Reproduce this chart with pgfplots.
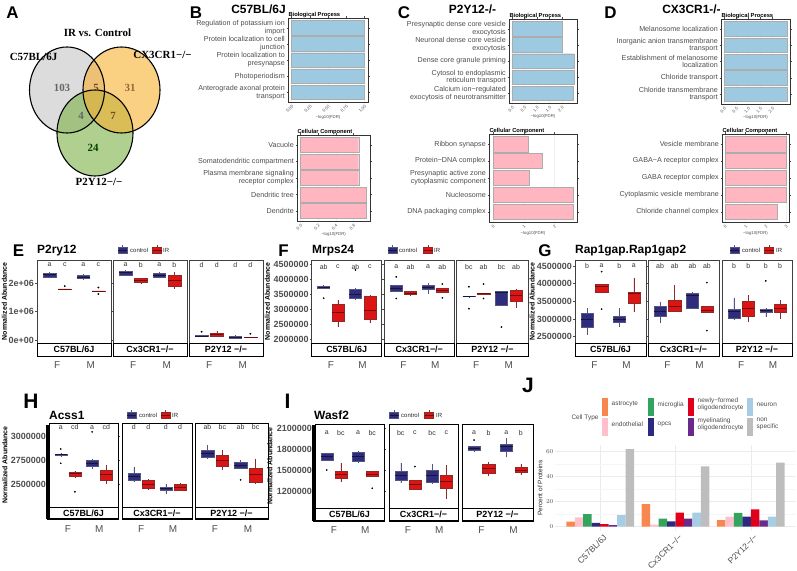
\documentclass[border=0pt]{standalone}
\usepackage{fontspec}
\setmainfont{Liberation Sans}
\newfontfamily\vennfont{Liberation Serif}
\usepackage{pgfplots}
\pgfplotsset{compat=1.18}
\usepgfplotslibrary{statistics}

\definecolor{ctrlF}{HTML}{2F2C7E}
\definecolor{ctrlD}{HTML}{55557E}
\definecolor{ctrlM}{HTML}{15143F}
\definecolor{irF}{HTML}{DD1414}
\definecolor{irD}{HTML}{8E2A2A}
\definecolor{irM}{HTML}{6E0C0C}
\definecolor{gobl}{HTML}{9ECAE1}
\definecolor{gopk}{HTML}{FFB6C1}
\definecolor{vgray}{HTML}{C4C4C4}
\definecolor{vorange}{HTML}{F7B031}
\definecolor{vgreen}{HTML}{7CB146}
\definecolor{cAstro}{HTML}{F8874F}
\definecolor{cEndo}{HTML}{FFC0CB}
\definecolor{cMicro}{HTML}{33A45B}
\definecolor{cOpcs}{HTML}{2C2A7E}
\definecolor{cNewly}{HTML}{E0001B}
\definecolor{cMyel}{HTML}{6B2A8A}
\definecolor{cNeuron}{HTML}{A6CDE3}
\definecolor{cNon}{HTML}{BDBDBD}
\definecolor{txt}{HTML}{4D4D4D}

% box-plot values are given in millions (abundance / 1e6)
\newcommand\bx[7]{\addplot[#7, boxplot prepared={draw position=#1, lower whisker=#2, lower quartile=#3, median=#4, upper quartile=#5, upper whisker=#6}] coordinates {};}
\newcommand\lts[5]{\node[lt] at (axis cs:0.775,#1) {#2};\node[lt] at (axis cs:1.225,#1) {#3};\node[lt] at (axis cs:1.775,#1) {#4};\node[lt] at (axis cs:2.225,#1) {#5};}
\newcommand\strip[3]{\draw[draw=black, line width=0.6pt, fill=white] (#1.south west) rectangle ([yshift=-#3]#1.south east);
 \node[font=\bfseries\fontsize{9}{10}\selectfont, inner sep=0pt] at ([yshift=-#3/2]#1.south) {#2};}
\newcommand\lkey[3]{\draw[#3D, line width=0.4pt] (#1bp,#2bp-4.5bp) -- (#1bp,#2bp+4.5bp);
 \filldraw[fill=#3F, draw=#3D, line width=0.4pt] (#1bp-4.5bp,#2bp-3bp) rectangle (#1bp+4.5bp,#2bp+3bp);
 \draw[#3M, line width=0.6pt] (#1bp-4.5bp,#2bp) -- (#1bp+4.5bp,#2bp);}
\newcommand\jkey[4]{\fill[#3] (#1bp,#2bp-9.2bp) rectangle (#1bp+6.6bp,#2bp+9.2bp);
 \node[anchor=west, align=left, font=\fontsize{6.5}{7.2}\selectfont, text=txt, inner sep=0pt] at (#1bp+9.8bp,#2bp+2.7bp) {#4};}

\tikzset{lt/.style={font=\fontsize{7}{8}\selectfont, text=black!80, inner sep=0pt},
 plab/.style={font=\bfseries\fontsize{17}{18}\selectfont, inner sep=0pt},
 plabb/.style={font=\bfseries\fontsize{21}{22}\selectfont, inner sep=0pt},
 ptit/.style={font=\bfseries\fontsize{12}{13}\selectfont, inner sep=0pt},
 ylab/.style={font=\bfseries\fontsize{7}{8}\selectfont, rotate=90, inner sep=0pt},
 legt/.style={font=\fontsize{6}{7}\selectfont, text=black!85, anchor=west, inner sep=0pt},
 gott/.style={font=\bfseries\fontsize{5.8}{6}\selectfont, anchor=south west, inner sep=0.3bp},
 vnum/.style={font=\vennfont\bfseries\fontsize{11}{12}\selectfont, inner sep=0pt},
}

\pgfplotsset{
 ctrl/.style={boxplot/draw direction=y, fill=ctrlF, draw=ctrlD, line width=0.4pt, boxplot/box extend=0.38, boxplot/whisker extend=0, boxplot/every median/.style={draw=ctrlM, line width=0.7pt}},
 ir/.style={boxplot/draw direction=y, fill=irF, draw=irD, line width=0.4pt, boxplot/box extend=0.38, boxplot/whisker extend=0, boxplot/every median/.style={draw=irM, line width=0.7pt}},
 outl/.style={only marks, mark=*, mark size=0.65pt, draw=black, fill=black},
 bpf/.style={scale only axis, anchor=south west, clip=false, xmin=0.4, xmax=2.6, xtick={1,2}, xticklabels={F,M},
   xticklabel style={yshift=-13bp, font=\fontsize{10}{11}\selectfont, text=txt}, xtick style={draw=none},
   ytick style={draw=txt, line width=0.5pt}, major tick length=2bp, tick align=outside,
   axis line style={draw=gray!50!black, line width=0.6pt},
   yticklabel style={font=\bfseries\fontsize{9}{10}\selectfont, text=txt, inner sep=1bp}, scaled y ticks=false},
 bpn/.style={bpf, ytick=\empty},
 bph/.style={axis line style={draw=black, line width=0.9pt}},
 goax/.style={scale only axis, anchor=south west, xbar, bar width=0.9, ymin=0.4, ymax=5.6, y dir=reverse, ytick={1,2,3,4,5},
   yticklabel style={align=right, font=\fontsize{7.2}{7.8}\selectfont, text=txt, inner sep=1.5bp},
   xticklabel style={rotate=45, anchor=north east, font=\fontsize{4.3}{5}\selectfont, text=txt, inner sep=0.8bp},
   major tick length=1.5bp, tick align=outside, tick style={draw=txt, line width=0.3pt},
   axis line style={draw=black!80, line width=0.9pt}, xmajorgrids, grid style={draw=gray!12, line width=0.3pt},
   xlabel={−log10(FDR)}, xlabel style={font=\fontsize{4.3}{5}\selectfont, text=txt, inner sep=1bp}, scaled x ticks=false},
 bpbar/.style={fill=gobl, draw=gray!65, line width=0.4pt},
 ccbar/.style={fill=gopk, draw=gray!65, line width=0.4pt},
}

\begin{document}
\begin{tikzpicture}
\path[use as bounding box] (0,0) rectangle (797bp,571bp);

% ---------------- A: Venn
\begin{axis}[scale only axis, anchor=south west, at={(0bp,371bp)}, width=200bp, height=200bp,
  xmin=0, xmax=200, ymin=371, ymax=571, hide axis, clip=false]
\fill[vgray, fill opacity=0.6] (axis cs:67,481) ellipse [x radius=37.5bp, y radius=43bp];
\fill[vgreen, fill opacity=0.6] (axis cs:95,438) ellipse [x radius=38bp, y radius=43bp];
\fill[vorange, fill opacity=0.6] (axis cs:121.5,481) ellipse [x radius=38.5bp, y radius=43bp];
\draw[black, line width=1.1pt] (axis cs:67,481) ellipse [x radius=37.5bp, y radius=43bp];
\draw[black, line width=1.1pt] (axis cs:95,438) ellipse [x radius=38bp, y radius=43bp];
\draw[black, line width=1.1pt] (axis cs:121.5,481) ellipse [x radius=38.5bp, y radius=43bp];
\node[vnum, text=black!60] at (axis cs:62,483) {103};
\node[vnum, text=black!45!brown] at (axis cs:96,483) {5};
\node[vnum, text=brown!80!black] at (axis cs:130,483) {31};
\node[vnum, text=black!60] at (axis cs:81,455) {4};
\node[vnum, text=brown!60!black] at (axis cs:113,455) {7};
\node[vnum, text=green!25!black] at (axis cs:93,423) {24};
\node[vnum] at (axis cs:97.5,538) {IR vs. Control};
\node[vnum] at (axis cs:33.5,514) {C57BL/6J};
\node[vnum] at (axis cs:162.5,516) {CX3CR1−/−};
\node[vnum] at (axis cs:99,389) {P2Y12−/−};
\end{axis}
\node[plab] at (12.5bp,558.5bp) {A};

% ---------------- B
\node[plab] at (196bp,558.5bp) {B};
\node[ptit] at (258.5bp,562bp) {C57BL/6J};
\begin{axis}[goax, name=BBP, at={(288bp,469bp)}, width=80bp, height=84bp, xmin=-0.05, xmax=1.05,
  xtick={0,0.25,0.5,0.75,1}, xticklabels={0.00,0.25,0.50,0.75,1.00},
  yticklabels={{Regulation of potassium ion\\import},{Protein localization to cell\\junction},{Protein localization to\\presynapse},{Photoperiodism},{Anterograde axonal protein\\transport}}]
\addplot[bpbar] coordinates {(1.0,1) (1.0,2) (1.0,3) (1.0,4) (1.0,5)};
\end{axis}
\node[gott] at (BBP.north west) {Biological Process};
\begin{axis}[goax, name=BCC, at={(297bp,350bp)}, width=73bp, height=86bp, xmin=-0.0375, xmax=0.7875,
  xtick={0,0.2,0.4,0.6}, xticklabels={0.0,0.2,0.4,0.6},
  yticklabels={{Vacuole},{Somatodendritic compartment},{Plasma membrane signaling\\receptor complex},{Dendritic tree},{Dendrite}}]
\addplot[ccbar] coordinates {(0.66,1) (0.66,2) (0.66,3) (0.75,4) (0.75,5)};
\end{axis}
\node[gott] at (BCC.north west) {Cellular Component};

% ---------------- C
\node[plab] at (404bp,558.5bp) {C};
\node[ptit] at (472.5bp,562bp) {P2Y12-/-};
\begin{axis}[goax, name=CBP, at={(509bp,468bp)}, width=68bp, height=84bp, xmin=-0.124, xmax=2.604,
  xtick={0,0.5,1,1.5,2}, xticklabels={0.0,0.5,1.0,1.5,2.0},
  yticklabels={{Presynaptic dense core vesicle\\exocytosis},{Neuronal dense core vesicle\\exocytosis},{Dense core granule priming},{Cytosol to endoplasmic\\reticulum transport},{Calcium ion−regulated\\exocytosis of neurotransmitter}}]
\addplot[bpbar] coordinates {(2.0,1) (2.0,2) (2.48,3) (2.48,4) (2.44,5)};
\end{axis}
\node[gott] at (CBP.north west) {Biological Process};
\begin{axis}[goax, name=CCC, at={(489bp,349bp)}, width=88bp, height=88bp, xmin=-0.13, xmax=2.73,
  xtick={0,1,2}, xticklabels={0,1,2},
  yticklabels={{Ribbon synapse},{Protein−DNA complex},{Presynaptic active zone\\cytoplasmic component},{Nucleosome},{DNA packaging complex}}]
\addplot[ccbar] coordinates {(1.15,1) (1.60,2) (1.18,3) (2.60,4) (2.60,5)};
\end{axis}
\node[gott] at (CCC.north west) {Cellular Component};

% ---------------- D
\node[plab] at (610.5bp,558.5bp) {D};
\node[ptit] at (691.5bp,562bp) {CX3CR1-/-};
\begin{axis}[goax, name=DBP, at={(721bp,467bp)}, width=69bp, height=85bp, xmin=-0.13, xmax=2.73,
  xtick={0,0.5,1,1.5,2}, xticklabels={0.0,0.5,1.0,1.5,2.0},
  yticklabels={{Melanosome localization},{Inorganic anion transmembrane\\transport},{Establishment of melanosome\\localization},{Chloride transport},{Chloride transmembrane\\transport}}]
\addplot[bpbar] coordinates {(2.6,1) (2.6,2) (2.6,3) (2.6,4) (2.6,5)};
\end{axis}
\node[gott] at (DBP.north west) {Biological Process};
\begin{axis}[goax, name=DCC, at={(722bp,349bp)}, width=67bp, height=88bp, xmin=-0.15, xmax=3.15,
  xtick={0,1,2,3}, xticklabels={0,1,2,3},
  yticklabels={{Vesicle membrane},{GABA−A receptor complex},{GABA receptor complex},{Cytoplasmic vesicle membrane},{Chloride channel complex}}]
\addplot[ccbar] coordinates {(3.0,1) (3.0,2) (3.0,3) (3.0,4) (2.59,5)};
\end{axis}
\node[gott] at (DCC.north west) {Cellular Component};

% ---------------- E: P2ry12 (millions)
\node[plab] at (18.5bp,320bp) {E};
\node[ptit, anchor=west] at (37bp,320bp) {P2ry12};
\lkey{122.5}{321}{ctrl}\node[legt] at (130bp,321bp) {control};
\lkey{157}{321}{ir}\node[legt] at (163bp,321bp) {IR};
\node[ylab] at (4.5bp,269.5bp) {Normalized Abundance};
\begin{axis}[bpf, name=E1, at={(37bp,228bp)}, width=74bp, height=83bp, ymin=-0.106, ymax=2.82,
  ytick={0,1,2}, yticklabels={0e+00,1e+06,2e+06}]
\bx{0.775}{2.17}{2.22}{2.30}{2.37}{2.40}{ctrl}
\bx{1.225}{1.79}{1.795}{1.80}{1.805}{1.81}{ir}
\bx{1.775}{2.13}{2.17}{2.22}{2.29}{2.31}{ctrl}
\bx{2.225}{1.72}{1.725}{1.73}{1.735}{1.74}{ir}
\addplot[outl] coordinates {(1.225,1.90) (2.225,1.85) (2.225,1.62)};
\lts{2.64}{a}{c}{a}{c}
\end{axis}
\begin{axis}[bpn, name=E2, at={(113bp,228bp)}, width=74bp, height=83bp, ymin=-0.106, ymax=2.82]
\bx{0.775}{2.28}{2.30}{2.38}{2.43}{2.45}{ctrl}
\bx{1.225}{1.98}{2.02}{2.10}{2.18}{2.20}{ir}
\bx{1.775}{2.17}{2.21}{2.28}{2.34}{2.40}{ctrl}
\bx{2.225}{1.80}{1.90}{2.10}{2.30}{2.40}{ir}
\lts{2.64}{a}{b}{a}{b}
\end{axis}
\begin{axis}[bpn, name=E3, at={(189bp,228bp)}, width=74bp, height=83bp, ymin=-0.106, ymax=2.82]
\bx{0.775}{0.12}{0.13}{0.14}{0.155}{0.16}{ctrl}
\bx{1.225}{0.10}{0.13}{0.20}{0.235}{0.33}{ir}
\bx{1.775}{0.05}{0.07}{0.10}{0.15}{0.16}{ctrl}
\bx{2.225}{0.09}{0.095}{0.10}{0.105}{0.11}{ir}
\addplot[outl] coordinates {(0.775,0.29) (2.225,0.22)};
\lts{2.64}{d}{d}{d}{d}
\end{axis}
\strip{E1}{C57BL/6J}{13bp}\strip{E2}{Cx3CR1−/−}{13bp}\strip{E3}{P2Y12 −/−}{13bp}

% ---------------- F: Mrps24 (millions)
\node[plab] at (283.5bp,320bp) {F};
\node[ptit, anchor=west] at (312bp,320bp) {Mrps24};
\lkey{392.5}{321}{ctrl}\node[legt] at (399bp,321bp) {control};
\lkey{428}{321}{ir}\node[legt] at (434bp,321bp) {IR};
\node[ylab] at (267.5bp,269.5bp) {Normalized Abundance};
\begin{axis}[bpf, name=F1, at={(311.7bp,228bp)}, width=70bp, height=83bp, ymin=1.88, ymax=4.64,
  ytick={2,2.5,3,3.5,4,4.5}, yticklabels={2000000,2500000,3000000,3500000,4000000,4500000}]
\bx{0.775}{3.68}{3.71}{3.74}{3.78}{3.80}{ctrl}
\bx{1.225}{2.42}{2.59}{2.90}{3.17}{3.31}{ir}
\bx{1.775}{3.31}{3.37}{3.50}{3.67}{3.70}{ctrl}
\bx{2.225}{2.55}{2.67}{2.98}{3.44}{3.46}{ir}
\addplot[outl] coordinates {(0.775,3.37) (1.775,4.31)};
\lts{4.42}{ab}{c}{ab}{c}
\end{axis}
\begin{axis}[bpn, name=F2, at={(384.3bp,228bp)}, width=70bp, height=83bp, ymin=1.88, ymax=4.64]
\bx{0.775}{3.58}{3.61}{3.71}{3.80}{3.82}{ctrl}
\bx{1.225}{3.47}{3.49}{3.545}{3.60}{3.62}{ir}
\bx{1.775}{3.52}{3.66}{3.74}{3.80}{3.89}{ctrl}
\bx{2.225}{3.56}{3.58}{3.63}{3.69}{3.71}{ir}
\addplot[outl] coordinates {(0.775,4.08) (0.775,3.36) (2.225,3.84) (2.225,3.38)};
\lts{4.42}{a}{ab}{a}{ab}
\end{axis}
\begin{axis}[bpn, name=F3, at={(456.7bp,228bp)}, width=71.6bp, height=83bp, ymin=1.88, ymax=4.64]
\bx{0.775}{3.42}{3.425}{3.43}{3.435}{3.44}{ctrl}
\bx{1.225}{3.51}{3.515}{3.52}{3.525}{3.53}{ir}
\bx{1.775}{3.13}{3.13}{3.58}{3.60}{3.60}{ctrl}
\bx{2.225}{3.05}{3.27}{3.47}{3.64}{3.69}{ir}
\addplot[outl] coordinates {(0.775,3.75) (0.775,3.02) (1.225,3.84) (1.225,3.36) (1.775,2.41)};
\lts{4.42}{bc}{ab}{bc}{ab}
\end{axis}
\strip{F1}{C57BL/6J}{13bp}\strip{F2}{Cx3CR1−/−}{13bp}\strip{F3}{P2Y12 −/−}{13bp}

% ---------------- G: Rap1gap.Rap1gap2 (millions)
\node[plab] at (545bp,320bp) {G};
\node[ptit, anchor=west] at (575bp,320bp) {Rap1gap.Rap1gap2};
\lkey{734.5}{321}{ctrl}\node[legt] at (742bp,321bp) {control};
\lkey{769}{321}{ir}\node[legt] at (776bp,321bp) {IR};
\node[ylab] at (532bp,269.5bp) {Normalized Abundance};
\begin{axis}[bpf, name=G1, at={(575bp,228bp)}, width=71bp, height=83bp, ymin=2.32, ymax=4.67,
  ytick={2.5,3,3.5,4,4.5}, yticklabels={2500000,3000000,3500000,4000000,4500000}]
\bx{0.775}{2.55}{2.78}{2.99}{3.16}{3.30}{ctrl}
\bx{1.225}{3.75}{3.77}{3.91}{3.99}{4.00}{ir}
\bx{1.775}{2.78}{2.90}{2.99}{3.08}{3.30}{ctrl}
\bx{2.225}{3.21}{3.46}{3.73}{3.77}{4.15}{ir}
\addplot[outl] coordinates {(1.225,4.34) (1.225,3.28)};
\lts{4.50}{b}{a}{b}{a}
\end{axis}
\begin{axis}[bpn, name=G2, at={(648bp,228bp)}, width=71bp, height=83bp, ymin=2.32, ymax=4.67]
\bx{0.775}{2.88}{3.07}{3.21}{3.35}{3.49}{ctrl}
\bx{1.225}{3.23}{3.23}{3.35}{3.54}{3.96}{ir}
\bx{1.775}{3.30}{3.30}{3.68}{3.73}{3.75}{ctrl}
\bx{2.225}{3.18}{3.18}{3.25}{3.35}{3.35}{ir}
\addplot[outl] coordinates {(2.225,4.03) (2.225,2.67)};
\lts{4.50}{ab}{ab}{ab}{ab}
\end{axis}
\begin{axis}[bpn, name=G3, at={(722bp,228bp)}, width=70bp, height=83bp, ymin=2.32, ymax=4.67]
\bx{0.775}{2.97}{3.02}{3.23}{3.28}{3.58}{ctrl}
\bx{1.225}{2.92}{3.08}{3.30}{3.49}{3.67}{ir}
\bx{1.775}{3.05}{3.20}{3.24}{3.27}{3.30}{ctrl}
\bx{2.225}{3.00}{3.20}{3.30}{3.41}{3.53}{ir}
\addplot[outl] coordinates {(1.775,4.08)};
\lts{4.50}{b}{b}{b}{b}
\end{axis}
\strip{G1}{C57BL/6J}{13bp}\strip{G2}{Cx3CR1−/−}{13bp}\strip{G3}{P2Y12 −/−}{13bp}

% ---------------- H: Acss1 (millions)
\node[plabb] at (31bp,169.5bp) {H};
\node[ptit, anchor=west] at (49bp,156bp) {Acss1};
\lkey{131.5}{156}{ctrl}\node[legt] at (139bp,156bp) {control};
\lkey{165.5}{156}{ir}\node[legt] at (172bp,156bp) {IR};
\node[ylab] at (5bp,106bp) {Normalized Abundance};
\begin{axis}[bpf, bph, name=H1, at={(49bp,64bp)}, width=69bp, height=84bp, ymin=2.26, ymax=3.144,
  ytick={2.5,2.75,3}, yticklabels={2500000,2750000,3000000}]
\bx{0.775}{2.79}{2.80}{2.81}{2.82}{2.83}{ctrl}
\bx{1.225}{2.57}{2.58}{2.61}{2.63}{2.64}{ir}
\bx{1.775}{2.66}{2.685}{2.72}{2.755}{2.77}{ctrl}
\bx{2.225}{2.50}{2.545}{2.60}{2.65}{2.70}{ir}
\addplot[outl] coordinates {(0.775,2.87) (0.775,2.72) (1.225,2.42) (1.775,3.05)};
\lts{3.10}{a}{cd}{a}{cd}
\end{axis}
\begin{axis}[bpn, bph, name=H2, at={(122bp,64bp)}, width=70bp, height=84bp, ymin=2.26, ymax=3.144]
\bx{0.775}{2.52}{2.545}{2.58}{2.62}{2.68}{ctrl}
\bx{1.225}{2.44}{2.46}{2.50}{2.545}{2.55}{ir}
\bx{1.775}{2.40}{2.44}{2.455}{2.47}{2.50}{ctrl}
\bx{2.225}{2.43}{2.44}{2.47}{2.50}{2.51}{ir}
\lts{3.10}{d}{d}{d}{d}
\end{axis}
\begin{axis}[bpn, bph, name=H3, at={(195bp,64bp)}, width=73bp, height=84bp, ymin=2.26, ymax=3.144]
\bx{0.775}{2.77}{2.78}{2.825}{2.86}{2.91}{ctrl}
\bx{1.225}{2.65}{2.685}{2.755}{2.81}{2.86}{ir}
\bx{1.775}{2.67}{2.67}{2.70}{2.73}{2.755}{ctrl}
\bx{2.225}{2.50}{2.52}{2.60}{2.67}{2.77}{ir}
\addplot[outl] coordinates {(1.775,2.545)};
\lts{3.10}{ab}{bc}{ab}{bc}
\end{axis}
\strip{H1}{C57BL/6J}{12bp}\strip{H2}{Cx3CR1−/−}{12bp}\strip{H3}{P2Y12 −/−}{12bp}
\draw[black, line width=3bp] (47.5bp,52bp) -- (47.5bp,146bp);
\draw[black, line width=2bp] (47bp,51.5bp) -- (118bp,51.5bp) (122bp,51.5bp) -- (192bp,51.5bp) (195bp,51.5bp) -- (268bp,51.5bp);

% ---------------- I: Wasf2 (millions)
\node[plabb] at (287.5bp,169.5bp) {I};
\node[ptit, anchor=west] at (314bp,156bp) {Wasf2};
\lkey{394}{156}{ctrl}\node[legt] at (401bp,156bp) {control};
\lkey{429}{156}{ir}\node[legt] at (436bp,156bp) {IR};
\node[ylab] at (270bp,105bp) {Normalized Abundance};
\begin{axis}[bpf, bph, name=I1, at={(315bp,63bp)}, width=69bp, height=84bp, ymin=0.956, ymax=2.16,
  ytick={1.2,1.5,1.8,2.1}, yticklabels={1200000,1500000,1800000,2100000}]
\bx{0.775}{1.64}{1.645}{1.69}{1.74}{1.75}{ctrl}
\bx{1.225}{1.335}{1.38}{1.445}{1.49}{1.60}{ir}
\bx{1.775}{1.61}{1.62}{1.69}{1.75}{1.77}{ctrl}
\bx{2.225}{1.41}{1.41}{1.445}{1.48}{1.48}{ir}
\addplot[outl] coordinates {(0.775,1.50) (2.225,1.24)};
\lts{2.03}{a}{bc}{a}{bc}
\end{axis}
\begin{axis}[bpn, bph, name=I2, at={(389bp,63bp)}, width=69bp, height=84bp, ymin=0.956, ymax=2.16]
\bx{0.775}{1.31}{1.35}{1.43}{1.49}{1.60}{ctrl}
\bx{1.225}{1.225}{1.225}{1.29}{1.35}{1.35}{ir}
\bx{1.775}{1.31}{1.32}{1.43}{1.50}{1.58}{ctrl}
\bx{2.225}{1.08}{1.24}{1.335}{1.43}{1.57}{ir}
\addplot[outl] coordinates {(1.225,1.55)};
\lts{2.03}{bc}{c}{bc}{c}
\end{axis}
\begin{axis}[bpn, bph, name=I3, at={(462bp,63bp)}, width=71bp, height=84bp, ymin=0.956, ymax=2.16]
\bx{0.775}{1.76}{1.78}{1.81}{1.84}{1.85}{ctrl}
\bx{1.225}{1.42}{1.455}{1.53}{1.58}{1.61}{ir}
\bx{1.775}{1.68}{1.765}{1.84}{1.875}{1.96}{ctrl}
\bx{2.225}{1.43}{1.465}{1.50}{1.535}{1.58}{ir}
\addplot[outl] coordinates {(0.775,1.93)};
\lts{2.03}{a}{b}{a}{b}
\end{axis}
\strip{I1}{C57BL/6J}{13bp}\strip{I2}{Cx3CR1−/−}{13bp}\strip{I3}{P2Y12 −/−}{13bp}
\draw[black, line width=3bp] (313.5bp,50bp) -- (313.5bp,146bp);
\draw[black, line width=2bp] (313bp,49.5bp) -- (384bp,49.5bp) (389bp,49.5bp) -- (458bp,49.5bp) (462bp,49.5bp) -- (533bp,49.5bp);

% ---------------- J: cell types
\node[plabb] at (528bp,185.5bp) {J};
\node[font=\fontsize{6.5}{7}\selectfont, text=txt, inner sep=0pt] at (585bp,153.3bp) {Cell Type};
\jkey{601.7}{163.8}{cAstro}{astrocyte}
\jkey{647.7}{163.8}{cMicro}{microglia}
\jkey{687.7}{163.8}{cNewly}{newly−formed\\oligodendrocyte}
\jkey{746.7}{163.8}{cNeuron}{neuron}
\jkey{601.7}{144.2}{cEndo}{endothelial}
\jkey{647.7}{144.2}{cOpcs}{opcs}
\jkey{687.7}{144.2}{cMyel}{myelinating\\oligodendrocyte}
\jkey{746.7}{144.2}{cNon}{non\\specific}
\node[font=\fontsize{6.5}{7}\selectfont, rotate=90, text=black!85, inner sep=0pt] at (540bp,83bp) {Percent of Proteins};
\begin{axis}[scale only axis, anchor=south west, at={(555bp,40.4bp)}, width=241bp, height=85.3bp,
  xmin=0.4, xmax=3.6, ymin=-3.1, ymax=65.1, ybar=0pt, bar width=0.1125,
  xtick={1,2,3}, xticklabels={C57BL/6J,Cx3CR1−/−,P2Y12−/−}, ytick={0,20,40,60}, minor ytick={10,30,50},
  xmajorgrids, ymajorgrids, yminorgrids,
  major grid style={draw=gray!16, line width=0.5pt}, minor grid style={draw=gray!8, line width=0.3pt},
  axis line style={draw=none}, tick style={draw=none},
  xticklabel style={rotate=45, anchor=north east, font=\fontsize{8.5}{9}\selectfont, text=txt, inner sep=1bp, xshift=4bp},
  yticklabel style={font=\fontsize{6.5}{7}\selectfont, text=txt, inner sep=1.5bp}]
\addplot[fill=cAstro, draw=none] coordinates {(1,4.0) (2,18.1) (3,5.3)};
\addplot[fill=cEndo, draw=none] coordinates {(1,7.5) (2,1.6) (3,8.0)};
\addplot[fill=cMicro, draw=none] coordinates {(1,10.1) (2,6.4) (3,11.0)};
\addplot[fill=cOpcs, draw=none] coordinates {(1,3.0) (2,4.3) (3,8.0)};
\addplot[fill=cNewly, draw=none] coordinates {(1,2.1) (2,11.2) (3,13.9)};
\addplot[fill=cMyel, draw=none] coordinates {(1,1.3) (2,6.4) (3,5.1)};
\addplot[fill=cNeuron, draw=none] coordinates {(1,9.3) (2,11.2) (3,8.0)};
\addplot[fill=cNon, draw=none] coordinates {(1,62.0) (2,48.3) (3,51.2)};
\end{axis}
\end{tikzpicture}
\end{document}
